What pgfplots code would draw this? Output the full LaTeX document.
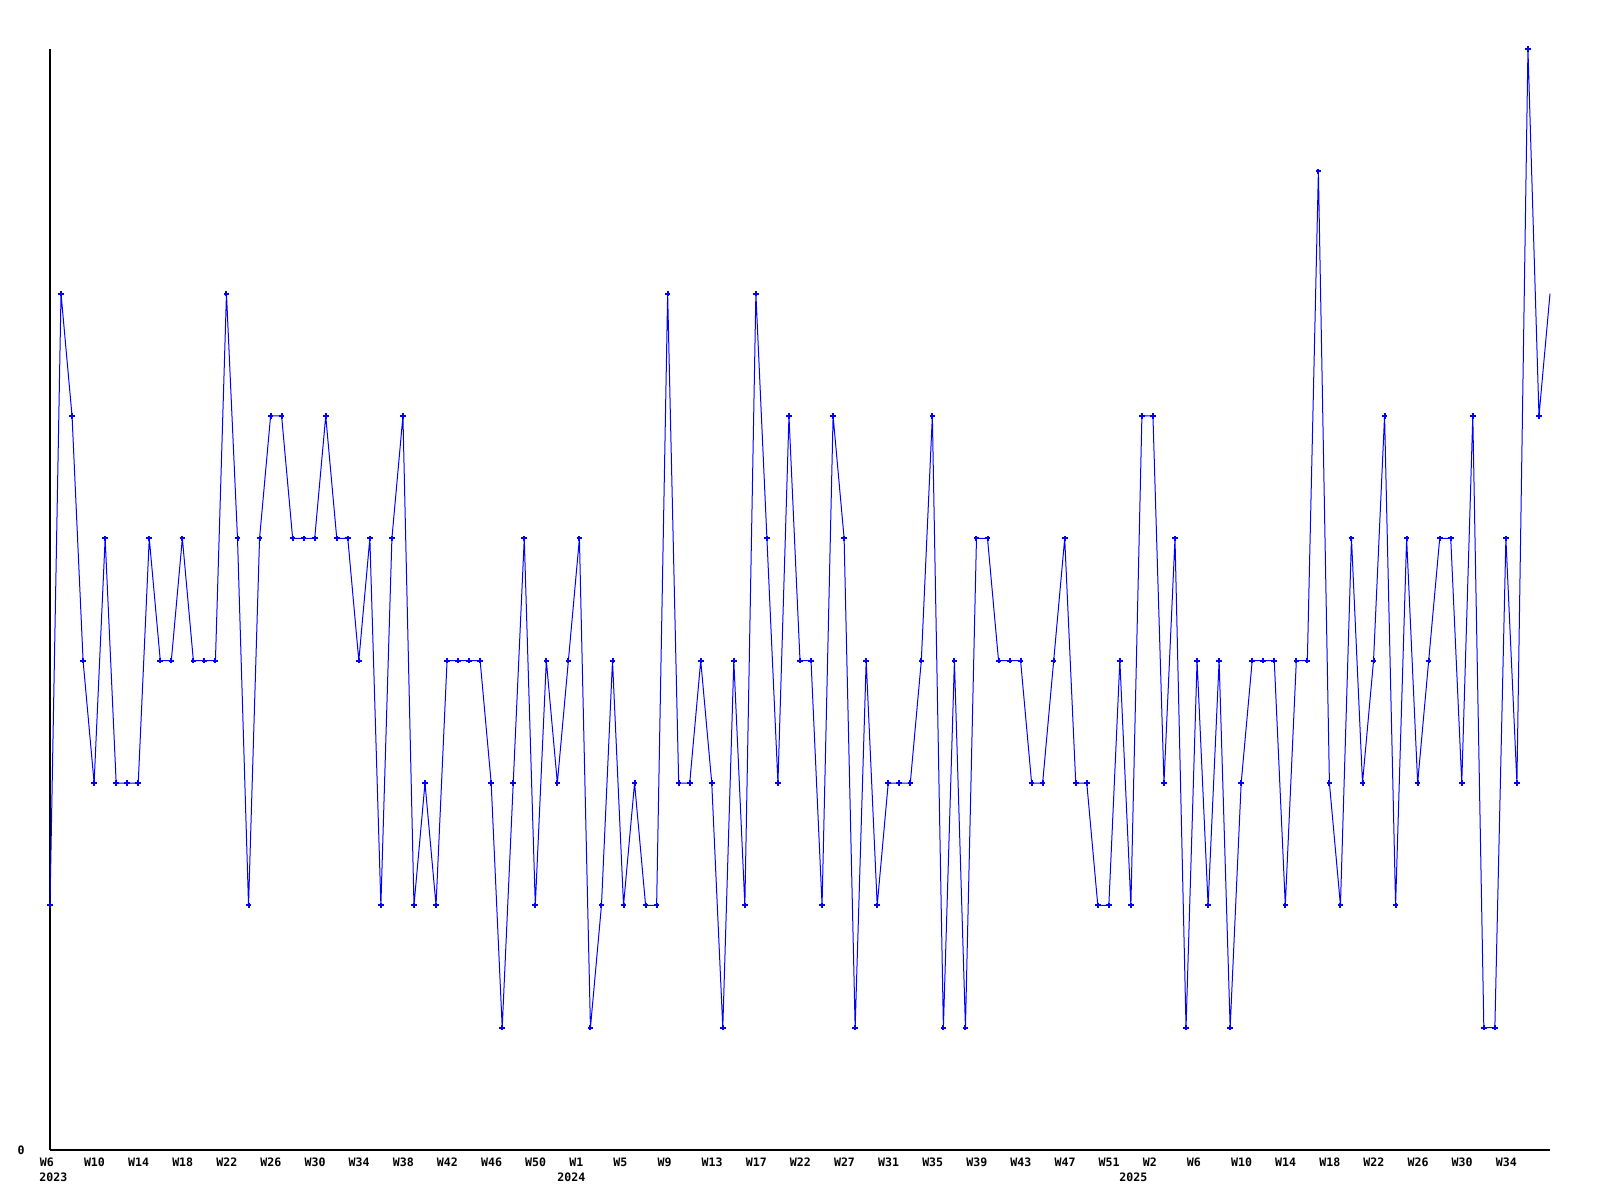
\documentclass[border=0pt]{standalone}
\usepackage{fontspec}
\setmonofont{DejaVu Sans Mono}
\usepackage{pgfplots}
\usepackage{pgfplotstable}
\pgfplotsset{compat=1.18}
\pgfplotstableread{
x y
0 2
1 7
2 6
3 4
4 3
5 5
6 3
7 3
8 3
9 5
10 4
11 4
12 5
13 4
14 4
15 4
16 7
17 5
18 2
19 5
20 6
21 6
22 5
23 5
24 5
25 6
26 5
27 5
28 4
29 5
30 2
31 5
32 6
33 2
34 3
35 2
36 4
37 4
38 4
39 4
40 3
41 1
42 3
43 5
44 2
45 4
46 3
47 4
48 5
49 1
50 2
51 4
52 2
53 3
54 2
55 2
56 7
57 3
58 3
59 4
60 3
61 1
62 4
63 2
64 7
65 5
66 3
67 6
68 4
69 4
70 2
71 6
72 5
73 1
74 4
75 2
76 3
77 3
78 3
79 4
80 6
81 1
82 4
83 1
84 5
85 5
86 4
87 4
88 4
89 3
90 3
91 4
92 5
93 3
94 3
95 2
96 2
97 4
98 2
99 6
100 6
101 3
102 5
103 1
104 4
105 2
106 4
107 1
108 3
109 4
110 4
111 4
112 2
113 4
114 4
115 8
116 3
117 2
118 5
119 3
120 4
121 6
122 2
123 5
124 3
125 4
126 5
127 5
128 3
129 6
130 1
131 1
132 5
133 3
134 9
135 6
136 7
}\series
\newcommand{\lblfont}{\fontsize{5.8pt}{6pt}\selectfont\ttfamily\bfseries}
\begin{document}
\begin{tikzpicture}
\path[use as bounding box] (-25pt,-25pt) rectangle (775pt,575pt);
\begin{axis}[
  at={(0,0)}, anchor=south west,
  scale only axis, width=750pt, height=550.5pt,
  xmin=0, xmax=136, ymin=0, ymax=9,
  axis x line=bottom, axis y line=left,
  axis line style={-, black, line width=0.6pt},
  xtick={0,4,...,132},
  xticklabels={W6,W10,W14,W18,W22,W26,W30,W34,W38,W42,W46,W50,W1,W5,W9,W13,W17,W22,W27,W31,W35,W39,W43,W47,W51,W2,W6,W10,W14,W18,W22,W26,W30,W34},
  ytick={0}, yticklabels={0},
  major tick length=0pt,
  tick label style={font=\lblfont, inner sep=0pt},
  xticklabel style={anchor=base west, xshift=-5.25pt, yshift=-8pt},
  yticklabel style={anchor=east, xshift=-12.5pt},
  clip=false,
]
\addplot[blue, line width=0.5pt, mark=none] table[x=x,y=y]{\series};
\addplot[blue, only marks, mark=+, mark size=1.4pt, mark options={line width=1pt}, restrict x to domain=0:135] table[x=x,y=y]{\series};
\node[font=\lblfont, inner sep=0pt, anchor=base, yshift=-15.5pt] at (axis cs:0.3,0) {2023};
\node[font=\lblfont, inner sep=0pt, anchor=base, yshift=-15.5pt] at (axis cs:47.27,0) {2024};
\node[font=\lblfont, inner sep=0pt, anchor=base, yshift=-15.5pt] at (axis cs:98.22,0) {2025};
\end{axis}
\end{tikzpicture}
\end{document}
